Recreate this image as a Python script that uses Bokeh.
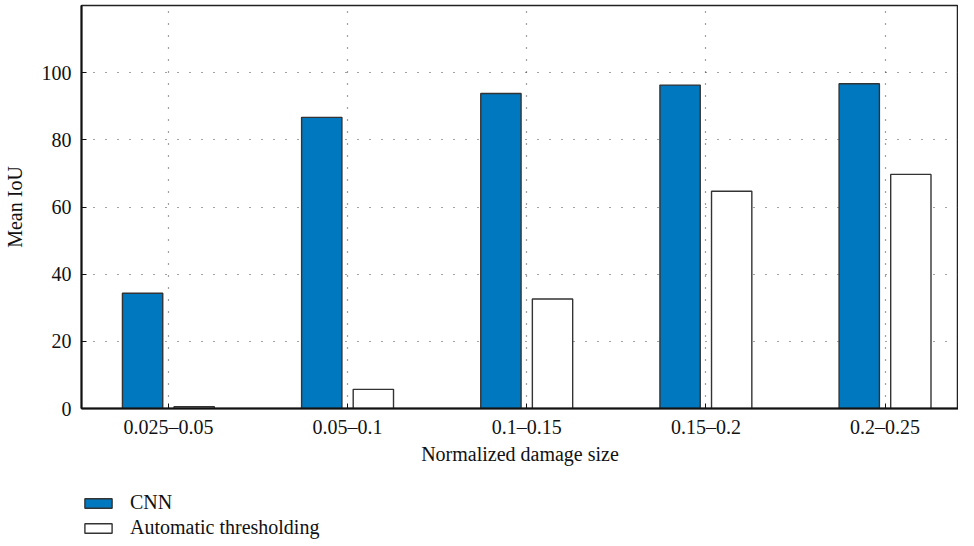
from bokeh.plotting import figure
from bokeh.layouts import column
from bokeh.models import ColumnDataSource, Legend, LegendItem, FixedTicker, Range1d
from bokeh.transform import dodge
from bokeh.embed import file_html
from bokeh.resources import INLINE

categories = ["0.025–0.05", "0.05–0.1", "0.1–0.15", "0.15–0.2", "0.2–0.25"]
cnn = [34.3, 86.7, 93.8, 96.3, 96.7]
thresholding = [0.5, 5.7, 32.6, 64.7, 69.7]
y_ticks = [0, 20, 40, 60, 80, 100]
series_names = ["CNN", "Automatic thresholding"]

FONT = "Liberation Serif"
CNN_COLOR = "#0078c0"
EDGE = "#333333"
xpos = list(range(1, len(categories) + 1))
src = ColumnDataSource(dict(x=xpos, cnn=cnn, thr=thresholding))

p = figure(width=958, height=472, output_backend="svg", toolbar_location=None,
           x_range=Range1d(0.515, 5.41), y_range=Range1d(0, 120),
           min_border_left=76, min_border_right=0, min_border_top=5, min_border_bottom=64)
p.outline_line_color = "#222222"
p.outline_line_width = 1.5
p.background_fill_color = "white"
p.border_fill_color = "white"

p.vbar(x=dodge("x", -0.144), top="cnn", width=0.225, source=src,
       fill_color=CNN_COLOR, line_color=EDGE, line_width=1.4)
p.vbar(x=dodge("x", 0.144), top="thr", width=0.225, source=src,
       fill_color="white", line_color=EDGE, line_width=1.4)

p.xaxis.ticker = FixedTicker(ticks=xpos)
p.xaxis.major_label_overrides = {i + 1: c for i, c in enumerate(categories)}
p.yaxis.ticker = FixedTicker(ticks=y_ticks)
p.xgrid.ticker = FixedTicker(ticks=xpos)
p.ygrid.ticker = FixedTicker(ticks=y_ticks)

for g in (p.xgrid, p.ygrid):
    g.grid_line_color = "#444444"
    g.grid_line_dash = "1 11"
    g.grid_line_width = 1.2

for ax in (p.xaxis, p.yaxis):
    ax.axis_line_color = "#111111"
    ax.axis_line_width = 2
    ax.major_tick_in = 5
    ax.major_tick_out = 0
    ax.minor_tick_line_color = None
    ax.major_tick_line_color = "#111111"
    ax.major_label_text_font = FONT
    ax.major_label_text_font_size = "20px"
    ax.major_label_text_color = "#111111"
    ax.axis_label_text_font = FONT
    ax.axis_label_text_font_size = "20px"
    ax.axis_label_text_font_style = "normal"
    ax.axis_label_text_color = "#111111"

p.xaxis.axis_label = "Normalized damage size"
p.yaxis.axis_label = "Mean IoU"
p.xaxis.major_label_standoff = 7
p.yaxis.major_label_standoff = 10
p.xaxis.axis_label_standoff = 2
p.yaxis.axis_label_standoff = 13

# legend strip below the chart; its renderers are zero-size (invisible), only swatches show
lg = figure(width=958, height=70, output_backend="svg", toolbar_location=None,
            x_range=Range1d(0, 6), y_range=Range1d(0, 120),
            min_border_left=74, min_border_right=0, min_border_top=19, min_border_bottom=0)
lg.axis.visible = False
lg.grid.visible = False
lg.outline_line_color = None
lg.border_fill_color = "white"
lr1 = lg.vbar(x="x", top="cnn", bottom="cnn", width=0, source=src,
              fill_color=CNN_COLOR, line_color=EDGE, line_width=1.4)
lr2 = lg.vbar(x="x", top="thr", bottom="thr", width=0, source=src,
              fill_color="white", line_color=EDGE, line_width=1.4)

legend = Legend(items=[LegendItem(label=series_names[0], renderers=[lr1]),
                       LegendItem(label=series_names[1], renderers=[lr2])],
                location="top_left", orientation="vertical")
legend.margin = 0
legend.padding = 0
legend.spacing = 2
legend.border_line_color = None
legend.background_fill_alpha = 0
legend.glyph_width = 34
legend.glyph_height = 12
legend.label_height = 20
legend.label_standoff = 15
legend.label_text_font = FONT
legend.label_text_font_size = "20px"
legend.label_text_color = "#111111"
lg.add_layout(legend, "center")

open("out.html", "w").write(file_html(column(p, lg, spacing=0), INLINE))
